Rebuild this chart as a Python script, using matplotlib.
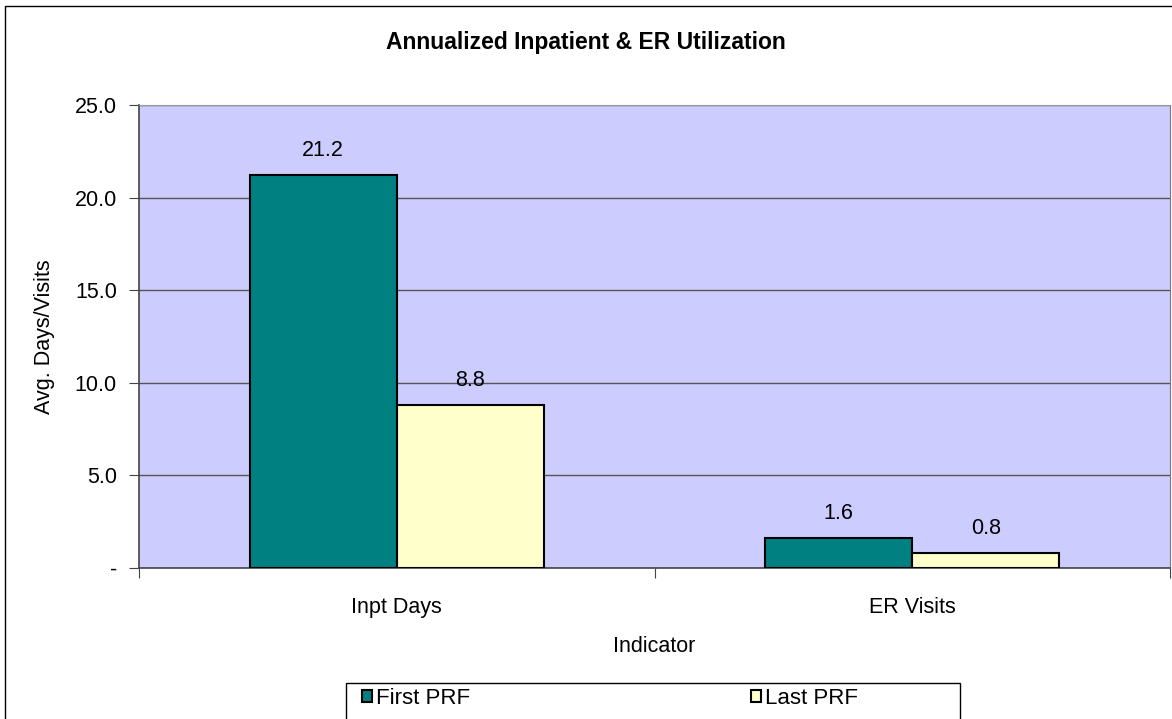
import matplotlib.pyplot as plt
import matplotlib.patches as mpatches
import numpy as np

plt.rcParams['font.family'] = ['Liberation Sans', 'DejaVu Sans']

# data
categories = ['Inpt Days', 'ER Visits']
series_names = ['First PRF', 'Last PRF']
first_prf = [21.2, 1.6]
last_prf = [8.8, 0.8]
yticks = [0, 5, 10, 15, 20, 25]
ytick_labels = ['-', '5.0', '10.0', '15.0', '20.0', '25.0']

W, H = 1172, 719
fig = plt.figure(figsize=(W / 100, H / 100), dpi=100)

# outer chart border (runs off the right and bottom edge)
fig.patches.append(mpatches.Rectangle((5 / W, 1 - 6 / H), 1.0, -1.0,
                                      transform=fig.transFigure, fill=False,
                                      edgecolor='black', linewidth=1.0))

ax = fig.add_axes([139 / W, 1 - 568 / H, (1170 - 139) / W, (568 - 105) / H])
ax.set_facecolor('#CCCCFF')

x = np.arange(len(categories))
bw = 0.285
b1 = ax.bar(x - bw / 2, first_prf, bw, color='#008080', edgecolor='black',
            linewidth=1.5, label=series_names[0], zorder=3)
b2 = ax.bar(x + bw / 2, last_prf, bw, color='#FFFFCC', edgecolor='black',
            linewidth=1.5, label=series_names[1], zorder=3)

for bars in (b1, b2):
    for r in bars:
        ax.annotate('%.1f' % r.get_height(), (r.get_x() + r.get_width() / 2, r.get_height()),
                    xytext=(0, 10), textcoords='offset points', ha='center', va='bottom',
                    fontsize=15.5)

ax.set_xlim(-0.5, 1.5)
ax.set_ylim(0, 25)
ax.set_yticks(yticks)
ax.set_yticklabels(ytick_labels)
ax.set_xticks([-0.5, 0.5, 1.5], minor=False)
ax.set_xticklabels([])
ax.set_xticks(x, minor=True)
ax.set_xticklabels(categories, minor=True)
ax.tick_params(axis='x', which='minor', length=0, pad=21, labelsize=15.5)
ax.tick_params(axis='x', which='major', length=7, direction='out', color='#444444')
ax.tick_params(axis='y', length=7, direction='out', pad=9, labelsize=15.5, color='#444444')

ax.grid(axis='y', color='#555555', linewidth=1.0, zorder=1)
for s in ['left', 'bottom']:
    ax.spines[s].set_color('#444444')
    ax.spines[s].set_linewidth(1.2)
ax.spines['top'].set_color('#999999')
ax.spines['right'].set_color('#777777')

ax.set_xlabel('Indicator', fontsize=15.5, labelpad=13)
ax.set_ylabel('Avg. Days/Visits', fontsize=15.5, labelpad=14)
fig.text(0.5, 1 - 42 / H, 'Annualized Inpatient & ER Utilization', ha='center', va='center',
         fontsize=16.5, fontweight='bold')

# legend box (cut at the bottom edge)
fig.patches.append(mpatches.Rectangle((346 / W, 1 - 683 / H), (960 - 346) / W, -60 / H,
                                      transform=fig.transFigure, facecolor='white',
                                      edgecolor='black', linewidth=1.0))
leg = fig.legend(handles=[b1, b2], loc='center left', bbox_to_anchor=(362 / W, 1 - 698 / H),
                 ncol=2, frameon=False, fontsize=16, handlelength=0.45, handleheight=0.45,
                 handletextpad=0.2, columnspacing=12.6, borderpad=0, borderaxespad=0)

fig.savefig('out.png', dpi=100)
